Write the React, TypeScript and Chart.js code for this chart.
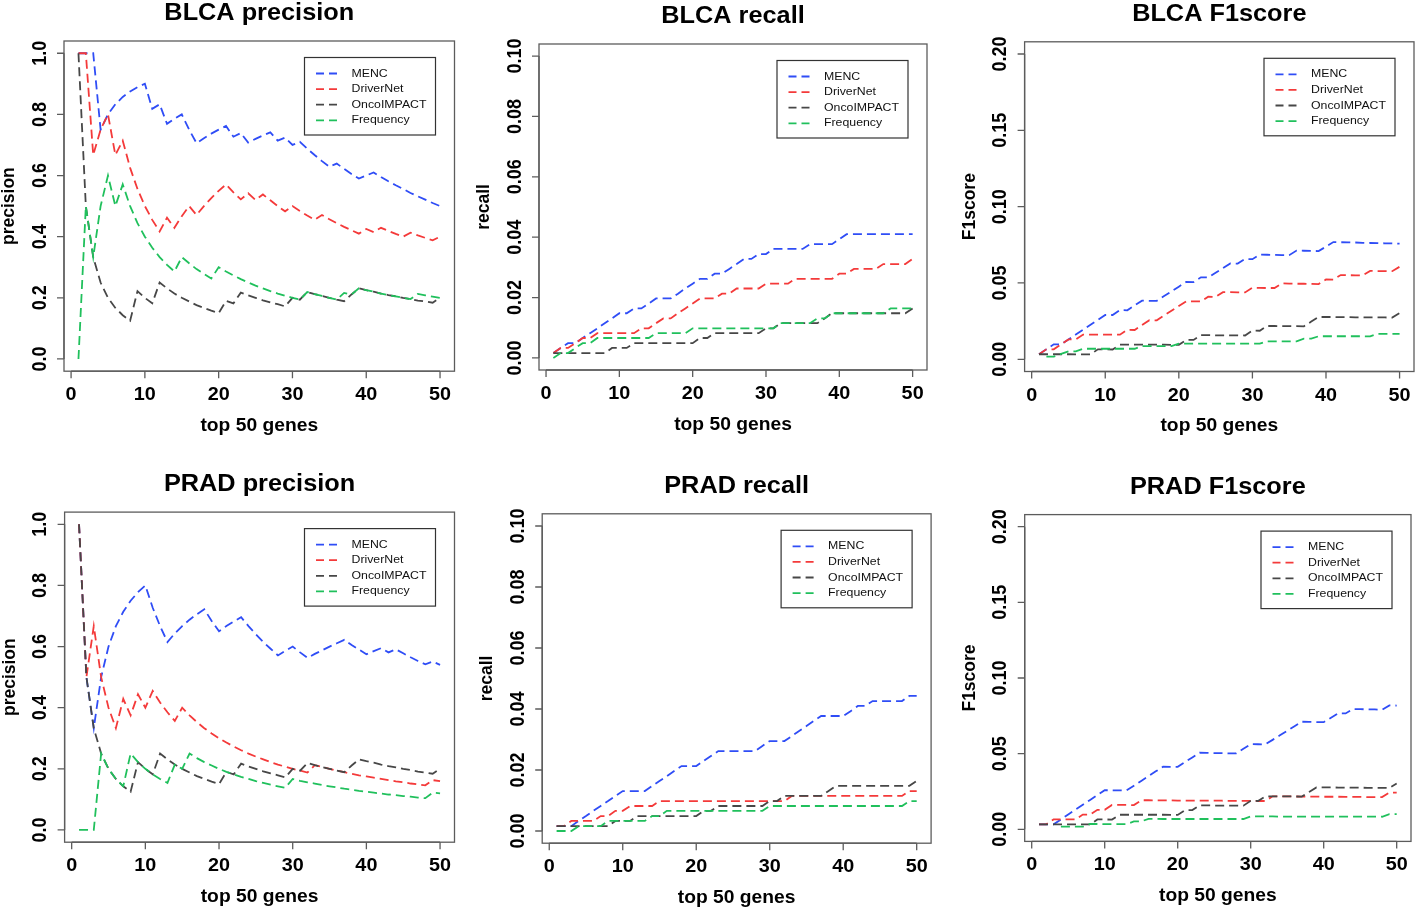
import React, { useEffect, useRef } from 'react';
import { Chart, registerables } from 'chart.js';
Chart.register(...registerables);

// ---------- data ----------
const ks = [1,2,3,4,5,6,7,8,9,10,11,12,13,14,15,16,17,18,19,20,21,22,23,24,25,26,27,28,29,30,31,32,33,34,35,36,37,38,39,40,41,42,43,44,45,46,47,48,49,50];
const methodNames = ['MENC', 'DriverNet', 'OncoIMPACT', 'Frequency'];
const xTicks = [0, 10, 20, 30, 40, 50];
const xTickLabels = ['0', '10', '20', '30', '40', '50'];
const precTicks = [0, 0.2, 0.4, 0.6, 0.8, 1.0];
const precTickLabels = ['0.0', '0.2', '0.4', '0.6', '0.8', '1.0'];
const recallTicks = [0, 0.02, 0.04, 0.06, 0.08, 0.1];
const recallTickLabels = ['0.00', '0.02', '0.04', '0.06', '0.08', '0.10'];
const f1Ticks = [0, 0.05, 0.1, 0.15, 0.2];
const f1TickLabels = ['0.00', '0.05', '0.10', '0.15', '0.20'];

// BLCA precision
const blcaMencP = [1,1,1,0.75,0.8, 0.833,0.857,0.875,0.889,0.9, 0.818,0.833,0.769,0.786,0.8, 0.75,0.706,0.722,0.737,0.75, 0.762,0.727,0.739,0.708,0.72, 0.731,0.741,0.714,0.724,0.7, 0.71,0.688,0.667,0.647,0.629, 0.639,0.622,0.605,0.59,0.6, 0.61,0.595,0.581,0.568,0.556, 0.543,0.532,0.521,0.51,0.5];
const blcaDnP = [1,1,0.667,0.75,0.8, 0.667,0.714,0.625,0.556,0.5, 0.455,0.417,0.462,0.429,0.467, 0.5,0.471,0.5,0.526,0.55, 0.571,0.545,0.522,0.542,0.52, 0.538,0.519,0.5,0.483,0.5, 0.484,0.469,0.455,0.471,0.457, 0.444,0.432,0.421,0.41,0.425, 0.415,0.429,0.419,0.409,0.4, 0.413,0.404,0.396,0.388,0.4];
const blcaOncoP = [1,0.5,0.333,0.25,0.2, 0.167,0.143,0.125,0.222,0.2, 0.182,0.25,0.231,0.214,0.2, 0.188,0.176,0.167,0.158,0.15, 0.19,0.182,0.217,0.208,0.2, 0.192,0.185,0.179,0.172,0.2, 0.194,0.219,0.212,0.206,0.2, 0.194,0.189,0.211,0.231,0.225, 0.22,0.214,0.209,0.205,0.2, 0.196,0.191,0.188,0.184,0.2];
const blcaFreqP = [0,0.5,0.333,0.5,0.6, 0.5,0.571,0.5,0.444,0.4, 0.364,0.333,0.308,0.286,0.333, 0.313,0.294,0.278,0.263,0.3, 0.286,0.273,0.261,0.25,0.24, 0.231,0.222,0.214,0.207,0.2, 0.194,0.219,0.212,0.206,0.2, 0.194,0.216,0.211,0.231,0.225, 0.22,0.214,0.209,0.205,0.2, 0.196,0.213,0.208,0.204,0.2];

// BLCA recall
const blcaMencR = [0.0016,0.0033,0.0049,0.0049,0.0066, 0.0082,0.0098,0.0115,0.0131,0.0148, 0.0148,0.0164,0.0164,0.018,0.0197, 0.0197,0.0197,0.0213,0.023,0.0246, 0.0262,0.0262,0.0279,0.0279,0.0295, 0.0311,0.0328,0.0328,0.0344,0.0344, 0.0361,0.0361,0.0361,0.0361,0.0361, 0.0377,0.0377,0.0377,0.0377,0.0393, 0.041,0.041,0.041,0.041,0.041, 0.041,0.041,0.041,0.041,0.041];
const blcaDnR = [0.0016,0.0033,0.0033,0.0049,0.0066, 0.0066,0.0082,0.0082,0.0082,0.0082, 0.0082,0.0082,0.0098,0.0098,0.0115, 0.0131,0.0131,0.0148,0.0164,0.018, 0.0197,0.0197,0.0197,0.0213,0.0213, 0.023,0.023,0.023,0.023,0.0246, 0.0246,0.0246,0.0246,0.0262,0.0262, 0.0262,0.0262,0.0262,0.0262,0.0279, 0.0279,0.0295,0.0295,0.0295,0.0295, 0.0311,0.0311,0.0311,0.0311,0.0328];
const blcaOncoR = [0.0016,0.0016,0.0016,0.0016,0.0016, 0.0016,0.0016,0.0016,0.0033,0.0033, 0.0033,0.0049,0.0049,0.0049,0.0049, 0.0049,0.0049,0.0049,0.0049,0.0049, 0.0066,0.0066,0.0082,0.0082,0.0082, 0.0082,0.0082,0.0082,0.0082,0.0098, 0.0098,0.0115,0.0115,0.0115,0.0115, 0.0115,0.0115,0.0131,0.0148,0.0148, 0.0148,0.0148,0.0148,0.0148,0.0148, 0.0148,0.0148,0.0148,0.0148,0.0164];
const blcaFreqR = [0,0.0016,0.0016,0.0033,0.0049, 0.0049,0.0066,0.0066,0.0066,0.0066, 0.0066,0.0066,0.0066,0.0066,0.0082, 0.0082,0.0082,0.0082,0.0082,0.0098, 0.0098,0.0098,0.0098,0.0098,0.0098, 0.0098,0.0098,0.0098,0.0098,0.0098, 0.0098,0.0115,0.0115,0.0115,0.0115, 0.0115,0.0131,0.0131,0.0148,0.0148, 0.0148,0.0148,0.0148,0.0148,0.0148, 0.0148,0.0164,0.0164,0.0164,0.0164];

// BLCA F1score
const blcaMencF = [0.0033,0.0065,0.0098,0.0098,0.013, 0.0162,0.0194,0.0227,0.0258,0.029, 0.029,0.0322,0.0321,0.0353,0.0384, 0.0383,0.0383,0.0414,0.0445,0.0476, 0.0507,0.0506,0.0537,0.0536,0.0567, 0.0597,0.0628,0.0627,0.0657,0.0656, 0.0686,0.0685,0.0684,0.0683,0.0682, 0.0712,0.0711,0.071,0.0709,0.0738, 0.0768,0.0767,0.0766,0.0765,0.0763, 0.0762,0.0761,0.076,0.0759,0.0758];
const blcaDnF = [0.0033,0.0065,0.0065,0.0098,0.013, 0.013,0.0162,0.0162,0.0162,0.0161, 0.0161,0.0161,0.0193,0.0192,0.0224, 0.0256,0.0255,0.0287,0.0318,0.0349, 0.038,0.038,0.0379,0.041,0.0409, 0.044,0.044,0.0439,0.0438,0.0469, 0.0468,0.0467,0.0467,0.0497,0.0496, 0.0495,0.0495,0.0494,0.0493,0.0523, 0.0522,0.0552,0.0551,0.055,0.055, 0.0579,0.0578,0.0578,0.0577,0.0606];
const blcaOncoF = [0.0033,0.0033,0.0033,0.0033,0.0033, 0.0032,0.0032,0.0032,0.0065,0.0065, 0.0064,0.0096,0.0096,0.0096,0.0096, 0.0096,0.0096,0.0096,0.0095,0.0095, 0.0127,0.0127,0.0158,0.0158,0.0157, 0.0157,0.0157,0.0157,0.0156,0.0188, 0.0187,0.0218,0.0218,0.0217,0.0217, 0.0217,0.0216,0.0247,0.0277,0.0277, 0.0277,0.0276,0.0276,0.0275,0.0275, 0.0274,0.0274,0.0274,0.0273,0.0303];
const blcaFreqF = [null,0.0017,0.0017,0.0035,0.0052, 0.0052,0.0069,0.0069,0.0069,0.0069, 0.0069,0.0069,0.0069,0.0069,0.0086, 0.0086,0.0086,0.0086,0.0086,0.0103, 0.0103,0.0102,0.0102,0.0102,0.0102, 0.0102,0.0102,0.0102,0.0102,0.0102, 0.0102,0.0118,0.0118,0.0118,0.0118, 0.0118,0.0135,0.0135,0.0151,0.0151, 0.0151,0.0151,0.0151,0.0151,0.0151, 0.015,0.0167,0.0167,0.0167,0.0167];

// PRAD precision
const pradMencP = [1,0.5,0.333,0.5,0.6, 0.667,0.714,0.75,0.778,0.8, 0.727,0.667,0.615,0.643,0.667, 0.688,0.706,0.722,0.684,0.65, 0.667,0.682,0.696,0.667,0.64, 0.615,0.593,0.571,0.586,0.6, 0.581,0.563,0.576,0.588,0.6, 0.611,0.622,0.605,0.59,0.575, 0.585,0.595,0.581,0.591,0.578, 0.565,0.553,0.542,0.551,0.54];
const pradDnP = [1,0.5,0.667,0.5,0.4, 0.333,0.429,0.375,0.444,0.4, 0.455,0.417,0.385,0.357,0.4, 0.375,0.353,0.333,0.316,0.3, 0.286,0.273,0.261,0.25,0.24, 0.231,0.222,0.214,0.207,0.2, 0.194,0.188,0.212,0.206,0.2, 0.194,0.189,0.184,0.179,0.175, 0.171,0.167,0.163,0.159,0.156, 0.152,0.149,0.146,0.163,0.16];
const pradOncoP = [1,0.5,0.333,0.25,0.2, 0.167,0.143,0.125,0.222,0.2, 0.182,0.25,0.231,0.214,0.2, 0.188,0.176,0.167,0.158,0.15, 0.19,0.182,0.217,0.208,0.2, 0.192,0.185,0.179,0.172,0.2, 0.194,0.219,0.212,0.206,0.2, 0.194,0.189,0.211,0.231,0.225, 0.22,0.214,0.209,0.205,0.2, 0.196,0.191,0.188,0.184,0.2];
const pradFreqP = [0,0,0,0.25,0.2, 0.167,0.143,0.25,0.222,0.2, 0.182,0.167,0.154,0.214,0.2, 0.25,0.235,0.222,0.211,0.2, 0.19,0.182,0.174,0.167,0.16, 0.154,0.148,0.143,0.138,0.167, 0.161,0.156,0.152,0.147,0.143, 0.139,0.135,0.132,0.128,0.125, 0.122,0.119,0.116,0.114,0.111, 0.109,0.106,0.104,0.122,0.12];

// PRAD recall
const pradMencR = [0.0016,0.0016,0.0016,0.0033,0.0049, 0.0066,0.0082,0.0098,0.0115,0.0131, 0.0131,0.0131,0.0131,0.0148,0.0164, 0.018,0.0197,0.0213,0.0213,0.0213, 0.023,0.0246,0.0262,0.0262,0.0262, 0.0262,0.0262,0.0262,0.0279,0.0295, 0.0295,0.0295,0.0311,0.0328,0.0344, 0.0361,0.0377,0.0377,0.0377,0.0377, 0.0393,0.041,0.041,0.0426,0.0426, 0.0426,0.0426,0.0426,0.0443,0.0443];
const pradDnR = [0.0016,0.0016,0.0033,0.0033,0.0033, 0.0033,0.0049,0.0049,0.0066,0.0066, 0.0082,0.0082,0.0082,0.0082,0.0098, 0.0098,0.0098,0.0098,0.0098,0.0098, 0.0098,0.0098,0.0098,0.0098,0.0098, 0.0098,0.0098,0.0098,0.0098,0.0098, 0.0098,0.0098,0.0115,0.0115,0.0115, 0.0115,0.0115,0.0115,0.0115,0.0115, 0.0115,0.0115,0.0115,0.0115,0.0115, 0.0115,0.0115,0.0115,0.0131,0.0131];
const pradOncoR = [0.0016,0.0016,0.0016,0.0016,0.0016, 0.0016,0.0016,0.0016,0.0033,0.0033, 0.0033,0.0049,0.0049,0.0049,0.0049, 0.0049,0.0049,0.0049,0.0049,0.0049, 0.0066,0.0066,0.0082,0.0082,0.0082, 0.0082,0.0082,0.0082,0.0082,0.0098, 0.0098,0.0115,0.0115,0.0115,0.0115, 0.0115,0.0115,0.0131,0.0148,0.0148, 0.0148,0.0148,0.0148,0.0148,0.0148, 0.0148,0.0148,0.0148,0.0148,0.0164];
const pradFreqR = [0,0,0,0.0016,0.0016, 0.0016,0.0016,0.0033,0.0033,0.0033, 0.0033,0.0033,0.0033,0.0049,0.0049, 0.0066,0.0066,0.0066,0.0066,0.0066, 0.0066,0.0066,0.0066,0.0066,0.0066, 0.0066,0.0066,0.0066,0.0066,0.0082, 0.0082,0.0082,0.0082,0.0082,0.0082, 0.0082,0.0082,0.0082,0.0082,0.0082, 0.0082,0.0082,0.0082,0.0082,0.0082, 0.0082,0.0082,0.0082,0.0098,0.0098];

// PRAD F1score
const pradMencF = [0.0033,0.0033,0.0033,0.0065,0.0098, 0.013,0.0162,0.0194,0.0226,0.0258, 0.0258,0.0257,0.0257,0.0288,0.032, 0.0351,0.0383,0.0414,0.0413,0.0413, 0.0444,0.0475,0.0506,0.0505,0.0504, 0.0503,0.0502,0.0502,0.0532,0.0563, 0.0562,0.0561,0.0591,0.0621,0.0651, 0.0681,0.0711,0.071,0.0709,0.0708, 0.0737,0.0767,0.0766,0.0795,0.0794, 0.0793,0.0792,0.079,0.0819,0.0818];
const pradDnF = [0.0033,0.0033,0.0065,0.0065,0.0065, 0.0065,0.0097,0.0097,0.0129,0.0129, 0.0161,0.0161,0.0161,0.016,0.0192, 0.0192,0.0191,0.0191,0.0191,0.019, 0.019,0.019,0.019,0.0189,0.0189, 0.0189,0.0188,0.0188,0.0188,0.0188, 0.0187,0.0187,0.0218,0.0217,0.0217, 0.0217,0.0216,0.0216,0.0216,0.0215, 0.0215,0.0215,0.0214,0.0214,0.0214, 0.0213,0.0213,0.0213,0.0243,0.0242];
const pradOncoF = [0.0033,0.0033,0.0033,0.0033,0.0033, 0.0032,0.0032,0.0032,0.0065,0.0065, 0.0064,0.0096,0.0096,0.0096,0.0096, 0.0096,0.0096,0.0096,0.0095,0.0095, 0.0127,0.0127,0.0158,0.0158,0.0157, 0.0157,0.0157,0.0157,0.0156,0.0188, 0.0187,0.0218,0.0218,0.0217,0.0217, 0.0217,0.0216,0.0247,0.0277,0.0277, 0.0277,0.0276,0.0276,0.0275,0.0275, 0.0274,0.0274,0.0274,0.0273,0.0303];
const pradFreqF = [null,null,null,0.0017,0.0017, 0.0017,0.0017,0.0035,0.0035,0.0034, 0.0034,0.0034,0.0034,0.0052,0.0052, 0.0069,0.0069,0.0068,0.0068,0.0068, 0.0068,0.0068,0.0068,0.0068,0.0068, 0.0068,0.0068,0.0068,0.0068,0.0085, 0.0085,0.0085,0.0085,0.0084,0.0084, 0.0084,0.0084,0.0084,0.0084,0.0084, 0.0084,0.0084,0.0084,0.0084,0.0084, 0.0084,0.0084,0.0083,0.01,0.01];

// ---------- styling / layout ----------
const COLORS = ['#2f4df6', '#f43a3a', '#474747', '#20c05c'];
const FONT = '"Liberation Sans", Arial, Helvetica, sans-serif';
const SX = 1.1; // horizontal stretch of the reference text

type Panel = {
  title: string; ylab: string; series: (number | null)[][];
  yMin: number; yMax: number; yTicks: number[]; yLabels: string[];
  cell: [number, number, number, number]; box: [number, number, number, number];
};

const PANELS: Panel[] = [
  { title: 'BLCA precision', ylab: 'precision', series: [blcaMencP, blcaDnP, blcaOncoP, blcaFreqP], yMin: -0.04, yMax: 1.04, yTicks: precTicks, yLabels: precTickLabels, cell: [0, 0, 475, 454], box: [64, 41, 454.5, 371.2] },
  { title: 'BLCA recall', ylab: 'recall', series: [blcaMencR, blcaDnR, blcaOncoR, blcaFreqR], yMin: -0.004, yMax: 0.104, yTicks: recallTicks, yLabels: recallTickLabels, cell: [475, 0, 475, 454], box: [539, 44, 927, 370] },
  { title: 'BLCA F1score', ylab: 'F1score', series: [blcaMencF, blcaDnF, blcaOncoF, blcaFreqF], yMin: -0.008, yMax: 0.208, yTicks: f1Ticks, yLabels: f1TickLabels, cell: [950, 0, 466, 454], box: [1024.6, 41.8, 1414, 371.5] },
  { title: 'PRAD precision', ylab: 'precision', series: [pradMencP, pradDnP, pradOncoP, pradFreqP], yMin: -0.04, yMax: 1.04, yTicks: precTicks, yLabels: precTickLabels, cell: [0, 454, 475, 454], box: [64.6, 512.1, 454.5, 842.2] },
  { title: 'PRAD recall', ylab: 'recall', series: [pradMencR, pradDnR, pradOncoR, pradFreqR], yMin: -0.004, yMax: 0.104, yTicks: recallTicks, yLabels: recallTickLabels, cell: [475, 454, 475, 454], box: [542.2, 513.8, 931.1, 843.2] },
  { title: 'PRAD F1score', ylab: 'F1score', series: [pradMencF, pradDnF, pradOncoF, pradFreqF], yMin: -0.008, yMax: 0.208, yTicks: f1Ticks, yLabels: f1TickLabels, cell: [950, 454, 466, 454], box: [1024.7, 514.6, 1411, 841.4] },
];

function hText(ctx: CanvasRenderingContext2D, s: string, x: number, y: number, font: string, align: CanvasTextAlign, baseline: CanvasTextBaseline = 'alphabetic') {
  ctx.save();
  ctx.font = font; ctx.textAlign = align; ctx.textBaseline = baseline;
  ctx.translate(x, y); ctx.scale(SX, 1);
  ctx.fillText(s, 0, 0);
  ctx.restore();
}
function vText(ctx: CanvasRenderingContext2D, s: string, x: number, y: number, font: string) {
  ctx.save();
  ctx.font = font; ctx.textAlign = 'center'; ctx.textBaseline = 'alphabetic';
  ctx.translate(x, y); ctx.rotate(-Math.PI / 2); ctx.scale(1, SX);
  ctx.fillText(s, 0, 0);
  ctx.restore();
}

const rPlot = {
  id: 'rPlot',
  afterDraw(chart: any, _args: any, o: any) {
    const ctx: CanvasRenderingContext2D = chart.ctx;
    const a = chart.chartArea;
    const xs = chart.scales.x, ys = chart.scales.y;
    ctx.save();
    // box
    ctx.strokeStyle = '#5c5c5c'; ctx.lineWidth = 1.3; ctx.setLineDash([]);
    ctx.strokeRect(a.left, a.top, a.right - a.left, a.bottom - a.top);
    // axes with ticks
    ctx.beginPath();
    const xf = xs.getPixelForValue(o.xTicks[0]), xl = xs.getPixelForValue(o.xTicks[o.xTicks.length - 1]);
    ctx.moveTo(xf, a.bottom); ctx.lineTo(xl, a.bottom);
    o.xTicks.forEach((v: number) => { const p = xs.getPixelForValue(v); ctx.moveTo(p, a.bottom); ctx.lineTo(p, a.bottom + 7); });
    const yf = ys.getPixelForValue(o.yTicks[0]), yl = ys.getPixelForValue(o.yTicks[o.yTicks.length - 1]);
    ctx.moveTo(a.left, yf); ctx.lineTo(a.left, yl);
    o.yTicks.forEach((v: number) => { const p = ys.getPixelForValue(v); ctx.moveTo(a.left, p); ctx.lineTo(a.left - 7, p); });
    ctx.stroke();
    // labels
    ctx.fillStyle = '#000';
    o.xTicks.forEach((v: number, i: number) => hText(ctx, o.xLabels[i], xs.getPixelForValue(v), a.bottom + 29, `bold 18px ${FONT}`, 'center'));
    o.yTicks.forEach((v: number, i: number) => vText(ctx, o.yLabels[i], a.left - 18.5, ys.getPixelForValue(v), `bold 18px ${FONT}`));
    hText(ctx, o.title, (a.left + a.right) / 2, a.top - 21, `bold 23px ${FONT}`, 'center');
    hText(ctx, 'top 50 genes', (a.left + a.right) / 2, a.bottom + 59.5, `bold 17.5px ${FONT}`, 'center');
    vText(ctx, o.ylab, a.left - 50, (a.top + a.bottom) / 2, `bold 17.5px ${FONT}`);
    // legend
    const lw = 131, lh = 77.5;
    const lr = a.right - 19, lt = a.top + 16.5, ll = lr - lw;
    ctx.fillStyle = '#fff'; ctx.fillRect(ll, lt, lw, lh);
    ctx.strokeStyle = '#333'; ctx.lineWidth = 1.2; ctx.strokeRect(ll, lt, lw, lh);
    o.names.forEach((n: string, i: number) => {
      const yy = lt + 16 + i * 15.6;
      ctx.save();
      ctx.strokeStyle = o.colors[i]; ctx.lineWidth = 1.8; ctx.setLineDash([8, 5]);
      ctx.beginPath(); ctx.moveTo(ll + 11.5, yy); ctx.lineTo(ll + 33, yy); ctx.stroke();
      ctx.restore();
      ctx.fillStyle = '#111';
      hText(ctx, n, ll + 47, yy, `11.2px ${FONT}`, 'left', 'middle');
    });
    ctx.restore();
  },
};

function PanelChart({ p }: { p: Panel }) {
  const ref = useRef<HTMLCanvasElement>(null);
  useEffect(() => {
    const [cx, cy, cw, ch] = p.cell;
    const [bl, bt, br, bb] = p.box;
    const chart = new Chart(ref.current as HTMLCanvasElement, {
      type: 'line',
      data: {
        datasets: p.series.map((vals, i) => ({
          label: methodNames[i],
          data: ks.map((k, j) => ({ x: k, y: vals[j] })),
          borderColor: COLORS[i],
          borderWidth: 1.8,
          borderDash: [9, 5],
          pointRadius: 0,
          fill: false,
          tension: 0,
          spanGaps: false,
          order: 4 - i,
        })),
      },
      options: {
        responsive: false,
        animation: false,
        devicePixelRatio: 1,
        parsing: true,
        layout: { padding: { left: bl - cx, top: bt - cy, right: cx + cw - br, bottom: cy + ch - bb } },
        scales: {
          x: { type: 'linear', min: -0.96, max: 51.96, display: false },
          y: { type: 'linear', min: p.yMin, max: p.yMax, display: false },
        },
        plugins: {
          legend: { display: false },
          tooltip: { enabled: false },
          rPlot: {
            title: p.title, ylab: p.ylab, xTicks, xLabels: xTickLabels,
            yTicks: p.yTicks, yLabels: p.yLabels, names: methodNames, colors: COLORS,
          },
        } as any,
      },
      plugins: [rPlot as any],
    });
    return () => chart.destroy();
  }, [p]);
  const [cx, cy, cw, ch] = p.cell;
  return (
    <canvas ref={ref} width={cw} height={ch}
      style={{ position: 'absolute', left: cx, top: cy, width: cw, height: ch }} />
  );
}

export default function App() {
  return (
    <div style={{ position: 'absolute', left: 0, top: 0, width: 1416, height: 908, background: '#fff', overflow: 'hidden' }}>
      {PANELS.map((p) => <PanelChart key={p.title} p={p} />)}
    </div>
  );
}
